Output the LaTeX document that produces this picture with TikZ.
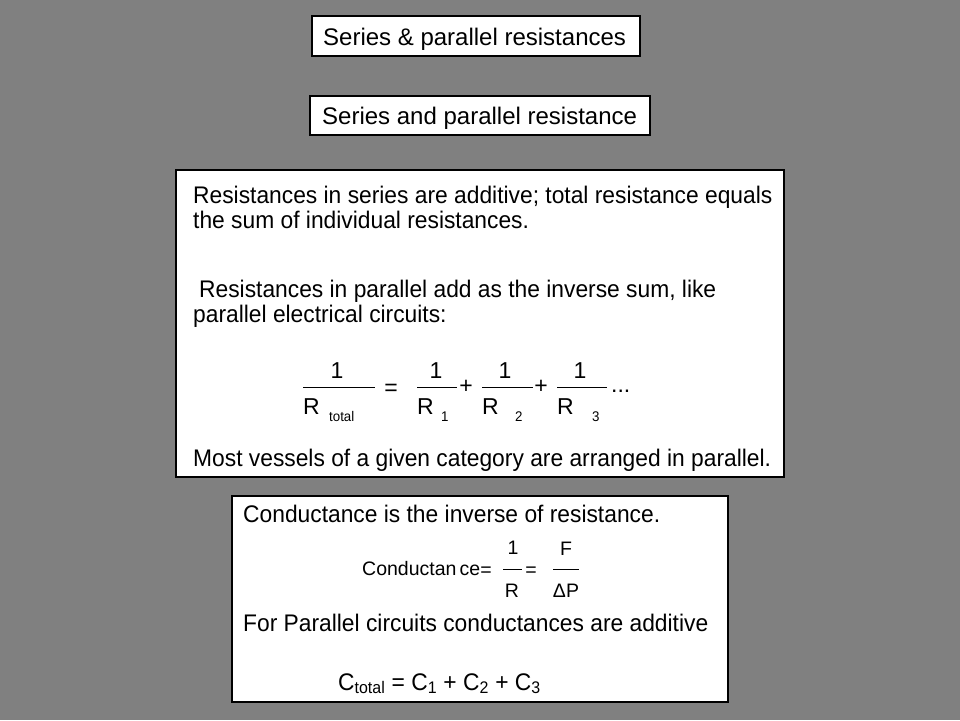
\documentclass[tikz,border=0pt]{standalone}
\usepackage{fontspec}
\setmainfont{Liberation Sans}
\newfontfamily\bodyfont[FakeStretch=0.95]{Liberation Sans}
\definecolor{slidegray}{RGB}{128,128,128}
\tikzset{
  panel/.style={draw=black, line width=2pt, fill=white},
  bigpanel/.style={panel, line width=2.6pt},
  title/.style={anchor=base west, inner sep=0pt, font=\fontsize{24}{28}\selectfont},
  body/.style={anchor=base west, inner sep=0pt, font=\bodyfont\fontsize{24}{28}\selectfont},
  eqbig/.style={anchor=base, inner sep=0pt, font=\fontsize{23}{27}\selectfont},
  eqsub/.style={anchor=base west, inner sep=0pt, font=\bodyfont\fontsize{14}{16}\selectfont},
  eqsmall/.style={anchor=base, inner sep=0pt, font=\fontsize{19.5}{23}\selectfont},
  bar/.style={line width=1pt}
}
\begin{document}
\begin{tikzpicture}[x=1pt,y=-1pt]
\fill[slidegray] (0,0) rectangle (960,720);
\useasboundingbox (0,0) rectangle (960,720);

\draw[panel] (312,16) rectangle (640,56);
\node[title] (head) at (323,45) {Series \& parallel resistances};
\draw[panel] (310,96) rectangle (650,135);
\node[title] (sub) at (322,124) {Series and parallel resistance};

\draw[bigpanel] (176,170) rectangle (784,477);
\node[body] (series1) at (193,203) {Resistances in series are additive; total resistance equals};
\node[body] (series2) at (193,228) {the sum of individual resistances.};
\node[body] (par1) at (199,297) {Resistances in parallel add as the inverse sum, like};
\node[body] (par2) at (193,322) {parallel electrical circuits:};

\draw[bar] (303,387) -- (375,387);
\node[eqbig] (num0) at (337,378) {1};
\node[eqbig, anchor=base west] (rt) at (303,414) {R};
\node[eqsub] (total) at (329,421) {total};
\node[eqbig] (eq) at (391,395) {=};
\draw[bar] (417,387) -- (457,387);
\node[eqbig] (num1) at (436,378) {1};
\node[eqbig, anchor=base west] (r1) at (417,414) {R};
\node[eqsub] (s1) at (441,421) {1};
\node[eqbig] (plus1) at (466,393) {+};
\draw[bar] (482,387) -- (533,387);
\node[eqbig] (num2) at (505,378) {1};
\node[eqbig, anchor=base west] (r2) at (482,414) {R};
\node[eqsub] (s2) at (515,421) {2};
\node[eqbig] (plus2) at (541,393) {+};
\draw[bar] (557,387) -- (607,387);
\node[eqbig] (num3) at (580,378) {1};
\node[eqbig, anchor=base west] (r3) at (557,414) {R};
\node[eqsub] (s3) at (592,421) {3};
\node[eqbig, anchor=base west] (dots) at (611,392) {...};

\node[body] (most) at (193,466) {Most vessels of a given category are arranged in parallel.};

\draw[bigpanel] (232,496) rectangle (728,702);
\node[body] (cond) at (243,522) {Conductance is the inverse of resistance.};
\node[eqsmall, anchor=base west] (condeq) at (362,575) {Conductan\,ce};
\node[eqsmall] (eq2) at (486,576) {=};
\draw[bar] (503,569) -- (522,569);
\node[eqsmall] (one) at (513,554) {1};
\node[eqsmall] (r) at (512,597) {R};
\node[eqsmall] (eq3) at (531,576) {=};
\draw[bar] (553,569) -- (579,569);
\node[eqsmall] (f) at (566,555) {F};
\node[eqsmall] (dp) at (566,597) {ΔP};
\node[body] (para) at (243,631) {For Parallel circuits conductances are additive};
\node[body] (ctotal) at (338,690) {C\textsubscript{total} = C\textsubscript{1} + C\textsubscript{2} + C\textsubscript{3}};
\end{tikzpicture}
\end{document}
